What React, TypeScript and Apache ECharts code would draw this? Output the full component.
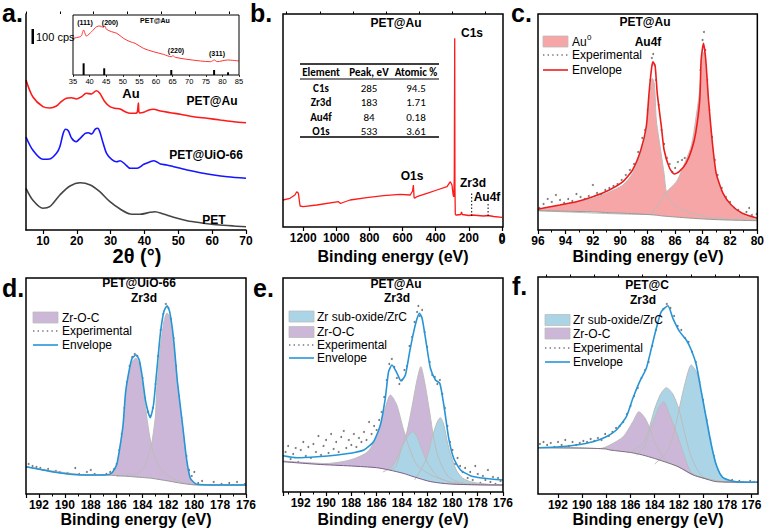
import React, { useEffect, useRef } from "react";
import * as echarts from "echarts";

const F = '"Liberation Sans", Arial, Helvetica, sans-serif';
const TF = 'Carlito, Lato, "Open Sans", sans-serif';

// ---- (a) XRD patterns: [2θ (°), intensity (offset, a.u.)] ----
const xrdPetAu = [[5,150],[7,133.3],[10,123.3],[12,122],[14,124],[15.4,128.3],[16.9,131.7],[18.4,132.3],[19.9,131],[21.4,133.3],[22.8,136.7],[24.3,136],[25.8,139.3],[26.8,136.7],[28.3,128.3],[29.8,123.3],[31.3,121.7],[32.8,121],[34.3,118.3],[35.8,116.7],[37.3,116.7],[37.9,118],[38.2,127],[38.5,117],[39.8,117.7],[41.3,120],[42.7,120.7],[44.7,119],[47.6,117.3],[50.6,115.7],[54.5,113.3],[58.5,111.7],[62.4,110],[66.4,108.3],[70,107.3]];
const xrdPetUio = [[5,93],[7,80],[10,70.7],[12,71],[14,76.7],[15,83.3],[16,96.7],[16.7,100.7],[17.5,99.3],[18.5,91.7],[19.8,88.3],[21,91.7],[22.5,96.7],[23.4,97.3],[24.4,96],[25.4,100.7],[26.2,101.7],[26.8,98.3],[27.8,86.7],[28.8,76.7],[30.3,70.7],[31.8,68.3],[32.8,69.3],[34.3,65.7],[35.8,61.7],[37.8,61.7],[39.8,65.7],[41.7,68.3],[42.8,69.3],[44.7,66],[46.6,65],[48.6,63.3],[52.6,60],[56.5,57.3],[60.5,55],[64.5,53.3],[70,51.7]];
const xrdPet = [[5,41.7],[7,30],[10,21.7],[12,23.3],[15,35],[18,44],[21,47.3],[24,45],[26.8,38.3],[29.8,28.3],[32.8,21],[35.8,16],[38.7,15.7],[41.7,17.7],[43.1,18.3],[45.6,16],[48.6,12.7],[52.6,9.3],[56.5,7.3],[61.4,5.3],[66.4,4],[70,3.3]];
const xrdTicks = [10, 20, 30, 40, 50, 60, 70];
const xrdMinorTicks = [5, 15, 25, 35, 45, 55, 65];

// inset: zoomed PET@Au pattern and Au reference reflections
const insetPetAu = [[35,36.7],[36.5,37.7],[37.5,39],[38.2,45],[38.6,41.7],[39,39],[40.6,43.3],[42.1,48.3],[43.1,49],[44.1,47.7],[44.6,49],[45.1,45.7],[46.6,43.3],[48.2,41.7],[50.2,36.7],[52.2,33.3],[53.7,31.7],[56.2,26.7],[59.2,23.3],[62.2,20.7],[64.6,18.3],[65.1,19.3],[65.8,17.7],[69.3,15.7],[73.4,14],[76.4,13.3],[77.6,15],[78.4,13.3],[81.5,15],[85,14]];
const auRefTheta = [38.2, 44.4, 64.6, 77.5, 81.7];
const auRefIntensity = [11.7, 6.7, 5, 5, 2.7];
const auPlanes = ["(111)", "(200)", "(220)", "(311)"];

// ---- (b) XPS survey: [binding energy (eV), counts (a.u.)] ----
const surveyPetAu = [[1322,27],[1280,28.7],[1250,32],[1239,35.3],[1229,33.7],[1219,21],[1200,20.3],[1118,22],[987,25.3],[975,23.5],[960,24.5],[917,27],[816,29.3],[715,31.3],[615,32.7],[554,32],[540,36],[535,42],[531,30],[528,28.7],[514,30.3],[453,33.7],[393,37],[332,40.3],[312,45.3],[302,42],[295,32],[291,30.3],[288,50],[285.5,188.7],[284,40],[282,13],[279,12],[272,12],[250,12.5],[244,15],[240,12.5],[200,11.5],[183,12],[111,11],[84,11.5],[50,10.5],[0,9.7]];
const surveyMarkers = [{ name: "Zr3d", ev: 183, top: 35 }, { name: "Au4f", ev: 84, top: 24 }];
const surveyTicks = [0, 200, 400, 600, 800, 1000, 1200];
const surveyMinorTicks = [100, 300, 500, 700, 900, 1100, 1300];
const tableHeader = ["Element", "Peak, eV", "Atomic %"];
const tableElements = ["C1s", "Zr3d", "Au4f", "O1s"];
const tablePeaks = [285, 183, 84, 533];
const tableAtomic = [94.5, 1.71, 0.18, 3.61];

// ---- (c) Au4f, PET@Au ----
const cBackground = [[96,19.3],[94,18.8],[92,18.2],[90.8,17.3],[89,16.3],[87.5,15],[86.9,14],[85,12],[83.5,10.7],[82,9.9],[80,9.3]];
const cEnvelope = [[96,20.7],[95.2,23],[94.4,25],[93.2,28.3],[92,33.3],[90.8,40],[89.8,48.3],[89.1,60],[88.5,80],[88.1,103.3],[87.9,136.7],[87.7,163.3],[87.6,168.3],[87.45,163.3],[87.3,136.7],[87.0,103.3],[86.8,80],[86.4,61.7],[86.05,56],[85.7,58.3],[85.2,66.7],[84.8,80],[84.5,96.7],[84.2,130],[84.1,170],[83.93,186.7],[83.76,170],[83.56,130],[83.3,90],[83.0,56.7],[82.5,36.7],[81.9,25],[81.1,16.7],[80,11.7]];
const cAu72 = [[96,19.3],[88,15.5],[87.5,20],[87,30],[86.64,38],[85.9,48.3],[85.2,70],[84.8,85],[84.5,110],[84.2,140],[84.05,170],[83.93,178],[83.8,170],[83.56,128],[83.3,88],[83.0,55],[82.5,35],[81.9,23.5],[81.1,15.5],[80,10]];
const cAu52 = [[96,20],[94,26],[92,31.7],[90.8,38],[89.8,45],[89.1,56.7],[88.5,76.7],[88.1,96.7],[87.9,126.7],[87.75,145],[87.65,151.7],[87.5,145],[87.37,110],[87.2,93],[87.0,75],[86.8,56],[86.64,38],[86.4,30],[86.04,25],[85.7,21.7],[84.7,16.7],[83.5,12.5],[82.8,11.7],[80.1,9.5]];
const cExperimental = [[95.9,22],[95.6,26],[95.3,31],[95.0,28],[94.7,35],[94.4,30],[94.1,27],[93.8,31],[93.5,29],[93.2,36],[92.9,33],[92.6,31],[92.3,34],[92.0,45],[91.7,37],[91.4,35],[91.1,40],[90.8,42],[90.5,44],[90.2,46],[89.9,50],[89.6,55],[89.3,60],[89.0,66],[88.7,78],[88.4,92],[88.2,100],[88.0,120],[87.8,150],[87.7,172],[87.6,176],[87.5,165],[87.4,150],[87.2,125],[87.0,100],[86.8,86],[86.6,72],[86.4,66],[86.2,58],[86.0,62],[85.8,68],[85.5,70],[85.3,72],[85.1,70],[84.9,78],[84.7,88],[84.5,100],[84.3,120],[84.15,160],[84.0,190],[83.9,198],[83.8,180],[83.65,150],[83.5,120],[83.3,93],[83.1,70],[82.9,55],[82.6,42],[82.3,33],[82.0,28],[81.7,22],[81.4,20],[81.1,14],[80.8,18],[80.6,22],[80.4,15],[80.2,8],[80.05,16]];

// ---- (d) Zr3d, PET@UiO-66 ----
const dBackground = [[193,27.3],[191,22.3],[189.75,20],[188.5,19],[187.2,19],[186.4,18.7],[185,17.5],[184,16.5],[183.3,15.7],[182,13],[181,10.7],[180,9.2],[179,9],[176,9]];
const dEnvelope = [[193,27.3],[191,22.3],[189.75,20],[188.5,19],[187.2,19],[186.4,20.7],[186,29],[185.8,42.3],[185.5,69],[185.3,102.3],[185,125.7],[184.8,135.7],[184.5,139],[184.25,134],[184,115.7],[183.75,92.3],[183.4,76.3],[183.15,89],[182.9,122.3],[182.6,162.3],[182.35,182.3],[182.1,188.3],[181.9,182.3],[181.6,155.7],[181.3,112.3],[180.9,69],[180.6,35.7],[180.3,15.7],[179.8,9.7],[178.3,9],[176,9]];
const dZrOC32 = [[193,27.3],[188,19],[186.4,19.5],[186,27],[185.8,40],[185.5,66],[185.3,99],[185,122],[184.8,132],[184.5,136],[184.25,130],[184,110],[183.75,85],[183.5,62],[183.3,49],[183,35],[182.6,25],[182,18],[181,12],[180,9.2],[176,9]];
const dZrOC52 = [[186,17.8],[185,19],[184.5,20],[184,24],[183.75,31],[183.5,40],[183.3,49],[183,78],[182.9,104],[182.6,148],[182.35,172],[182.1,181],[181.9,177],[181.6,152],[181.3,110],[180.9,67],[180.6,34],[180.3,15],[179.8,9.5],[176,9]];
const dExperimental = [[192.8,30],[192.5,28],[192.2,27],[191.9,26],[191.6,24],[191.3,25],[191.0,20],[190.7,23],[190.4,22],[190.1,19],[189.8,21],[189.5,17],[189.2,26],[188.9,20],[188.6,19],[188.3,22],[188.0,24],[187.7,20],[187.4,18],[187.1,19],[186.8,20],[186.5,22],[186.2,25],[186.0,30],[185.8,44],[185.6,60],[185.4,86],[185.2,112],[185.0,128],[184.8,137],[184.6,140],[184.4,138],[184.2,130],[184.0,116],[183.8,96],[183.6,82],[183.4,78],[183.2,86],[183.0,110],[182.8,138],[182.6,164],[182.4,180],[182.2,190],[182.0,186],[181.8,175],[181.6,156],[181.4,128],[181.2,98],[181.0,76],[180.8,55],[180.6,38],[180.4,24],[180.2,18],[180.0,22],[179.7,11],[179.4,13],[179.1,8],[178.8,9],[178.5,12],[178.2,7],[177.9,10],[177.6,8],[177.3,11],[177.0,9],[176.7,12],[176.4,9],[176.1,10]];

// ---- (e) Zr3d, PET@Au ----
const eBackground = [[193.4,30.3],[190.7,27.7],[188,26],[186,24.3],[185,22],[183.9,18.7],[183,15],[181.7,10.3],[180.2,8],[178,7.2],[176,7]];
const eEnvelope = [[193.4,36.3],[192.3,34.3],[190.7,35.3],[189.1,37],[188.1,38.7],[187,42],[186.24,50.3],[185.7,67],[185.31,93.7],[185.05,120.3],[184.78,127],[184.38,118.7],[184.06,111],[183.72,117],[183.38,140.3],[183.06,160.3],[182.79,173.7],[182.6,178.7],[182.4,173.7],[182.13,153.7],[181.74,123.7],[181.34,112],[181,108.7],[180.68,87],[180.29,53.7],[179.9,33.7],[179.36,22],[178.57,16.3],[177.5,13.7],[176,12]];
const eZrOC32 = [[193.4,31],[190,28.5],[188.1,32],[186.7,40.3],[185.95,57],[185.4,80.3],[184.9,97],[184.4,87],[183.9,63.7],[183.3,40.3],[182.8,27],[181.7,17],[180.2,10.3],[178,7.5],[176,7]];
const eZrOC52 = [[185,22],[184.5,25],[184,45],[183.6,60.3],[183.2,85],[182.8,112],[182.5,125.3],[182.2,110],[181.8,80],[181.5,55],[181.2,38],[180.8,25],[180.3,15],[179.5,10],[178,7.5],[176,7]];
const eSubOx32 = [[185.5,20],[184.8,25],[184.4,33],[184.1,42],[183.8,50],[183.4,58],[183.14,60.3],[182.8,55],[182.4,42],[182,30],[181.5,20],[181,14],[180,9],[179,7.5],[176,7]];
const eSubOx52 = [[183,12],[182.5,22],[182,35],[181.6,55],[181.2,70],[180.96,74.3],[180.7,68],[180.4,50],[180.2,40],[179.7,22],[179.2,14],[178.5,10],[177,7.5],[176,7]];
const eExperimental = [[193.2,40],[193.0,46],[192.8,33],[192.6,38],[192.4,44],[192.2,30],[192.0,42],[191.8,50],[191.6,36],[191.4,45],[191.2,34],[191.0,48],[190.8,40],[190.6,56],[190.4,37],[190.2,46],[190.0,52],[189.8,39],[189.6,58],[189.4,43],[189.2,50],[189.0,40],[188.8,55],[188.6,61],[188.4,44],[188.2,52],[188.0,47],[187.8,58],[187.6,45],[187.4,54],[187.2,50],[187.0,60],[186.8,52],[186.6,70],[186.4,58],[186.2,66],[186.0,62],[185.8,72],[185.6,80],[185.4,95],[185.2,112],[185.0,128],[184.8,133],[184.6,125],[184.4,114],[184.2,108],[184.0,112],[183.8,122],[183.6,126],[183.4,146],[183.2,155],[183.0,170],[182.8,180],[182.7,186],[182.6,176],[182.4,182],[182.2,160],[182.0,145],[181.8,130],[181.6,117],[181.4,115],[181.2,108],[181.0,112],[180.8,98],[180.6,84],[180.4,66],[180.2,50],[180.0,42],[179.8,28],[179.6,34],[179.4,26],[179.2,20],[179.0,24],[178.8,14],[178.6,20],[178.4,12],[178.2,26],[178.0,18],[177.8,9],[177.6,16],[177.4,12],[177.2,22],[177.0,10],[176.8,15],[176.6,8],[176.4,14],[176.2,11]];

// ---- (f) Zr3d, PET@C ----
const fBackground = [[193.65,46.3],[190,46],[188,45],[187.7,44],[186,41.5],[185,39],[184,35.5],[182.8,30.7],[182,27],[180.8,19],[180,16],[178.9,12.3],[178,12],[175.45,11.7]];
const fEnvelope = [[193.65,46.3],[191.86,47.3],[190.48,49],[189.1,52.3],[188,57.3],[187.17,64],[186.34,77.3],[185.8,95.7],[185.24,112.3],[184.69,125.7],[184.27,145.7],[183.86,165.7],[183.45,182.3],[182.9,188.3],[182.49,175.7],[181.93,162.3],[181.38,154],[180.97,144],[180.55,129],[180.14,102.3],[179.73,75.7],[179.31,49],[178.9,29],[178.35,16.3],[177.24,12.3],[175.45,11.7]];
const fZrOC32 = [[193.65,46.3],[188.5,45.5],[187.7,49],[186.6,57.3],[185.8,72.3],[185.3,82.3],[184.8,76],[184.4,65.7],[184,52],[183.5,40],[183,33],[182,27],[181,20],[180,16],[178,12],[175.45,11.7]];
const fZrOC52 = [[185.5,39],[184.8,48],[184.4,64],[184,76],[183.6,88],[183.26,92.3],[182.75,79],[182.2,62],[181.65,42],[181,22],[180,16],[178,12],[175.45,11.7]];
const fSubOx32 = [[186,42],[185,50],[184.5,64],[184,85],[183.5,100],[183.03,106.3],[182.5,100],[182,85],[181.5,60],[181,38],[180.5,25],[180,17],[179,13],[178,12],[175.45,11.7]];
const fSubOx52 = [[184,30],[183,42],[182.4,62],[181.96,85.7],[181.5,110],[180.97,129],[180.55,122],[180.28,109],[179.73,75.7],[179.31,49],[178.9,29],[178.35,15.7],[177.24,12.3],[175.45,11.7]];
const fExperimental = [[193.5,50],[193.2,52],[192.9,49],[192.6,51],[192.3,47],[192.0,52],[191.7,49],[191.4,54],[191.1,48],[190.8,52],[190.5,49],[190.2,51],[189.9,53],[189.6,52],[189.3,55],[189.0,53],[188.7,56],[188.4,54],[188.1,60],[187.8,58],[187.5,62],[187.2,66],[186.9,68],[186.6,72],[186.3,80],[186.0,88],[185.7,98],[185.4,106],[185.1,116],[184.8,124],[184.5,132],[184.2,148],[183.9,164],[183.6,178],[183.3,185],[183.0,190],[182.7,186],[182.4,178],[182.1,168],[181.8,164],[181.5,156],[181.2,152],[180.9,142],[180.6,132],[180.3,112],[180.0,94],[179.7,74],[179.4,54],[179.1,38],[178.8,24],[178.5,18],[178.2,14],[177.9,12],[177.6,14],[177.3,11],[177.0,13],[176.7,12],[176.4,11],[176.1,13],[175.8,12],[175.6,11]];
const zrTicks = [176, 178, 180, 182, 184, 186, 188, 190, 192];
const zrMinorTicks = [177, 179, 181, 183, 185, 187, 189, 191, 193];

// The survey axis is laid out left-to-right in "distance below 10000 eV"
// (axis value = 10000 − E), so energy still decreases to the right.
const SURVEY_REF = 10000;
const toSurveyAxis = (pts: number[][]) => pts.map(([e, v]) => [SURVEY_REF - e, v]);

// ---- palette ----
const RED = "#f01c1c";
const PINK = "#f6a6a6";
const PURPLE = "#cdb7d8";
const LIGHTBLUE = "#abd5e6";
const ENV_BLUE = "#2595d8";
const EDGE = "#bcbcbc";
const DOT = "#555555";

const tickLabel = { color: "#000", fontFamily: F, fontWeight: "bold" as const, fontSize: 12, margin: 5, formatter: (v: number) => String(v) };
const tickStyle = { show: true, length: 4, lineStyle: { color: "#000", width: 1.2 } };
const minorStyle = { show: true, splitNumber: 2, length: 2.5, lineStyle: { color: "#000", width: 1 } };

function xAxisPlain(gridIndex: number, min: number, max: number, inverse: boolean, interval: number) {
  return {
    type: "value", gridIndex, min, max, inverse, interval,
    axisLine: { show: false, onZero: false },
    axisTick: tickStyle,
    minorTick: minorStyle,
    axisLabel: { ...tickLabel, showMinLabel: true, showMaxLabel: max % interval === 0 },
    splitLine: { show: false }, minorSplitLine: { show: false },
  };
}

// Value axis whose ticks sit at explicit values
function xAxisCustom(gridIndex: number, min: number, max: number, inverse: boolean, ticks: number[], withLine = false, fmt?: (v: number) => string) {
  return {
    type: "value", gridIndex, min, max, inverse, z: 10,
    axisLine: { show: withLine, onZero: false, lineStyle: { color: "#000", width: 1.5 } },
    axisTick: { ...tickStyle, customValues: ticks },
    axisLabel: {
      ...tickLabel, customValues: ticks, showMinLabel: true, showMaxLabel: true, hideOverlap: false,
      formatter: fmt ?? ((v: number) => String(v)),
    },
    splitLine: { show: false },
  };
}
function xAxisMinor(gridIndex: number, min: number, max: number, inverse: boolean, ticks: number[]) {
  return {
    type: "value", gridIndex, min, max, inverse,
    axisLine: { show: false, onZero: false },
    axisTick: { show: true, length: 2.5, lineStyle: { color: "#000", width: 1 }, customValues: ticks },
    axisLabel: { show: false }, splitLine: { show: false },
  };
}

// Intensity axes carry no ticks or labels; only panel (a) draws its axis line
function yAxisPlain(gridIndex: number, max: number, showLine = false) {
  return {
    type: "value", gridIndex, min: 0, max, position: "left", show: showLine,
    axisLine: { show: showLine, onZero: false, lineStyle: { color: "#000", width: 1.5 } },
    axisTick: { show: false }, axisLabel: { show: false }, splitLine: { show: false }, z: 10,
  };
}

function peakArea(xi: number, yi: number, data: number[][], fill: string) {
  return {
    type: "line", xAxisIndex: xi, yAxisIndex: yi, data, smooth: 0.25, symbol: "none", silent: true,
    lineStyle: { color: EDGE, width: 1 }, areaStyle: { color: fill, opacity: 1, origin: "start" },
  };
}
function baseline(xi: number, yi: number, data: number[][], color: string) {
  return {
    type: "line", xAxisIndex: xi, yAxisIndex: yi, data, smooth: 0.25, symbol: "none", silent: true,
    lineStyle: { color, width: 1 }, areaStyle: { color: "#ffffff", opacity: 1, origin: "start" },
  };
}
function points(xi: number, yi: number, data: number[][]) {
  return {
    type: "scatter", xAxisIndex: xi, yAxisIndex: yi, data, symbolSize: 2, silent: true,
    itemStyle: { color: DOT },
  };
}
function curve(xi: number, yi: number, data: number[][], color: string, width = 1.6, smooth: number | boolean = 0.25) {
  return {
    type: "line", xAxisIndex: xi, yAxisIndex: yi, data, smooth, symbol: "none", silent: true,
    lineStyle: { color, width },
  };
}

function txt(x: number, y: number, text: string, size: number, weight = "bold", align = "center", family = F) {
  return {
    type: "text", x, y, z: 100, silent: true,
    style: { text, fontSize: size, fontWeight: weight, fontFamily: family, fill: "#000", align, textAlign: align, verticalAlign: "middle", textVerticalAlign: "middle" },
  };
}
function hline(x1: number, x2: number, y: number, w = 1.5, color = "#000", dash?: number[]) {
  return { type: "line", z: 100, silent: true, shape: { x1, y1: y, x2, y2: y }, style: { stroke: color, lineWidth: w, lineDash: dash } };
}
function swatch(x: number, y: number, w: number, h: number, fill: string) {
  return { type: "rect", z: 100, silent: true, shape: { x, y, width: w, height: h }, style: { fill, stroke: EDGE, lineWidth: 0.8 } };
}

type LegendRow = { kind: "rect" | "dots" | "line"; color: string; label: string; y: number; h?: number };
function legend(x: number, textX: number, rows: LegendRow[]) {
  const out: any[] = [];
  rows.forEach((r) => {
    if (r.kind === "rect") out.push(swatch(x, r.y - (r.h ?? 11) / 2, 25, r.h ?? 11, r.color));
    else if (r.kind === "dots") out.push(hline(x, x + 25, r.y, 1.4, r.color, [1.4, 3.2]));
    else out.push(hline(x, x + 25, r.y, 1.6, r.color));
    out.push(txt(textX, r.y, r.label, 12, "normal", "left"));
  });
  return out;
}

// surveyEdgeX: pixel position of the survey axis' 0 eV tick, used for its label
function buildOption(surveyEdgeX?: number) {
  const graphic: any[] = [];
  // panel letters
  graphic.push(txt(2, 13, "a.", 25, "bold", "left"));
  graphic.push(txt(250, 13, "b.", 25, "bold", "left"));
  graphic.push(txt(511, 13, "c.", 25, "bold", "left"));
  graphic.push(txt(2, 288, "d.", 25, "bold", "left"));
  graphic.push(txt(253, 288, "e.", 25, "bold", "left"));
  graphic.push(txt(512, 286, "f.", 25, "bold", "left"));

  // axis titles
  graphic.push(txt(137, 256, "2θ (°)", 20));
  graphic.push(txt(393, 256, "Binding energy (eV)", 16));
  graphic.push(txt(648, 256, "Binding energy (eV)", 16));
  graphic.push(txt(136, 519, "Binding energy (eV)", 16));
  graphic.push(txt(393, 519, "Binding energy (eV)", 16));
  graphic.push(txt(648, 519, "Binding energy (eV)", 16));

  // (a) labels and scale bar
  graphic.push(txt(212, 101, "PET@Au", 12));
  graphic.push(txt(206, 155, "PET@UiO-66", 12));
  graphic.push(txt(214, 220, "PET", 12));
  graphic.push(txt(131, 93, "Au", 13));
  graphic.push({ type: "rect", z: 100, silent: true, shape: { x: 31.5, y: 29, width: 2.5, height: 15 }, style: { fill: "#000" } });
  graphic.push(txt(36, 37, "100 cps", 11, "normal", "left"));
  graphic.push(txt(85, 22, auPlanes[0], 7));
  graphic.push(txt(110, 22, auPlanes[1], 7));
  graphic.push(txt(155, 20, "PET@Au", 7));
  graphic.push(txt(176, 50, auPlanes[2], 7));
  graphic.push(txt(217, 53, auPlanes[3], 7));

  // (b) labels and table
  graphic.push(txt(396, 23, "PET@Au", 12));
  graphic.push(txt(472, 33, "C1s", 12));
  graphic.push(txt(412, 176, "O1s", 12));
  graphic.push(txt(473, 183, "Zr3d", 12));
  graphic.push(txt(487, 197, "Au4f", 12));
  graphic.push(hline(300, 439, 64));
  graphic.push(hline(300, 439, 79, 1));
  graphic.push(hline(300, 439, 137));
  const colX = [321, 369, 416];
  tableHeader.forEach((h, i) => graphic.push(txt(colX[i], 72.5, h, 11, "bold", "center", TF)));
  tableElements.forEach((el, r) => {
    const y = 88 + r * 14.5;
    graphic.push(txt(colX[0], y, el, 11, "bold", "center", TF));
    graphic.push(txt(colX[1], y, String(tablePeaks[r]), 11, "normal", "center", TF));
    graphic.push(txt(colX[2], y, String(tableAtomic[r]), 11, "normal", "center", TF));
  });
  if (surveyEdgeX !== undefined && isFinite(surveyEdgeX)) {
    // label of the 0 eV tick at the right end of the survey axis
    graphic.push(txt(surveyEdgeX, 239.5, String(surveyTicks[0]), 12));
  }

  // (c) titles and legend
  graphic.push(txt(645, 22, "PET@Au", 12));
  graphic.push(txt(648, 42, "Au4f", 12));
  graphic.push(...legend(543, 572, [
    { kind: "rect", color: PINK, label: "Au", y: 41.5 },
    { kind: "dots", color: "#777", label: "Experimental", y: 55 },
    { kind: "line", color: RED, label: "Envelope", y: 70 },
  ]));
  graphic.push(txt(587, 37, "0", 8, "normal", "left"));

  // (d)
  graphic.push(txt(139, 283, "PET@UiO-66", 12));
  graphic.push(txt(144, 298, "Zr3d", 12));
  graphic.push(...legend(33, 62, [
    { kind: "rect", color: PURPLE, label: "Zr-O-C", y: 317.5 },
    { kind: "dots", color: "#777", label: "Experimental", y: 331 },
    { kind: "line", color: ENV_BLUE, label: "Envelope", y: 345 },
  ]));

  // (e)
  graphic.push(txt(396, 284, "PET@Au", 12));
  graphic.push(txt(397, 298, "Zr3d", 12));
  graphic.push(...legend(289, 317, [
    { kind: "rect", color: LIGHTBLUE, label: "Zr sub-oxide/ZrC", y: 316.5 },
    { kind: "rect", color: PURPLE, label: "Zr-O-C", y: 332 },
    { kind: "dots", color: "#777", label: "Experimental", y: 345 },
    { kind: "line", color: ENV_BLUE, label: "Envelope", y: 358 },
  ]));

  // (f)
  graphic.push(txt(647, 285, "PET@C", 12));
  graphic.push(txt(643, 300, "Zr3d", 12));
  graphic.push(...legend(545, 573, [
    { kind: "rect", color: LIGHTBLUE, label: "Zr sub-oxide/ZrC", y: 320 },
    { kind: "rect", color: PURPLE, label: "Zr-O-C", y: 333.5 },
    { kind: "dots", color: "#777", label: "Experimental", y: 348 },
    { kind: "line", color: ENV_BLUE, label: "Envelope", y: 362 },
  ]));

  const box = { show: true, borderColor: "#000", borderWidth: 1.5, z: 10 };
  const surveyMin = SURVEY_REF - 1322;
  const surveyMax = SURVEY_REF + 6;
  const surveyFmt = (v: number) => String(Math.round(SURVEY_REF - v));

  return {
    animation: false,
    backgroundColor: "#ffffff",
    grid: [
      { left: 26, top: 14, width: 220, height: 216 },
      { left: 73, top: 15, width: 166, height: 60, show: true, borderColor: "#000", borderWidth: 1, z: 10 },
      { left: 283, top: 14, width: 220, height: 213, ...box },
      { left: 538, top: 14, width: 220, height: 216, ...box },
      { left: 26, top: 278, width: 220, height: 216, ...box },
      { left: 283, top: 278, width: 220, height: 214, ...box },
      { left: 538, top: 277, width: 220, height: 217, ...box },
    ],
    xAxis: [
      // 0: (a) main, 1: (a) minor ticks
      xAxisCustom(0, 5, 70, false, xrdTicks, true),
      xAxisMinor(0, 5, 70, false, xrdMinorTicks),
      // 2: inset
      {
        type: "value", gridIndex: 1, min: 35, max: 85, interval: 5,
        axisLine: { show: false, onZero: false },
        axisTick: { show: true, length: 2, lineStyle: { color: "#000", width: 0.8 } },
        axisLabel: { color: "#000", fontFamily: F, fontSize: 7.5, margin: 2, formatter: (v: number) => String(v) },
        splitLine: { show: false },
      },
      // 3: (b), 4: (b) minor ticks
      xAxisCustom(2, surveyMin, surveyMax, false, surveyTicks.map((t) => SURVEY_REF - t), false, surveyFmt),
      xAxisMinor(2, surveyMin, surveyMax, false, surveyMinorTicks.map((t) => SURVEY_REF - t)),
      // 5: (c)
      xAxisPlain(3, 80, 96, true, 2),
      // 6: (d)
      xAxisPlain(4, 176, 193, true, 2),
      // 7: (e)
      xAxisPlain(5, 176, 193.4, true, 2),
      // 8: (f) main, 9: (f) minor ticks
      xAxisCustom(6, 175.45, 193.65, true, zrTicks),
      xAxisMinor(6, 175.45, 193.65, true, zrMinorTicks),
    ],
    yAxis: [
      yAxisPlain(0, 216, true),
      yAxisPlain(1, 60),
      yAxisPlain(2, 213),
      yAxisPlain(3, 216),
      yAxisPlain(4, 216),
      yAxisPlain(5, 214),
      yAxisPlain(6, 217),
    ],
    series: [
      // (a)
      curve(0, 0, xrdPetAu, "#ff1a1a", 1.6, 0.3),
      curve(0, 0, xrdPetUio, "#1515ff", 1.6, 0.3),
      curve(0, 0, xrdPet, "#454545", 1.6, 0.3),
      curve(2, 1, insetPetAu, "#ff3333", 1, 0.3),
      {
        type: "bar", xAxisIndex: 2, yAxisIndex: 1, barWidth: 2, silent: true,
        data: auRefTheta.map((t, i) => [t, auRefIntensity[i]]),
        itemStyle: { color: "#000" },
      },
      // (b)
      curve(3, 2, toSurveyAxis(surveyPetAu), "#ff1a1a", 1.3, false),
      ...surveyMarkers.map((m) => ({
        type: "line", xAxisIndex: 3, yAxisIndex: 2, symbol: "none", silent: true,
        data: toSurveyAxis([[m.ev, 11], [m.ev, m.top]]),
        lineStyle: { color: "#000", width: 1, type: [1.5, 2] },
      })),
      // (c)
      peakArea(5, 3, cAu72, PINK),
      peakArea(5, 3, cAu52, PINK),
      baseline(5, 3, cBackground, "#999"),
      points(5, 3, cExperimental),
      curve(5, 3, cEnvelope, RED, 1.6, 0.2),
      // (d)
      peakArea(6, 4, dZrOC52, PURPLE),
      peakArea(6, 4, dZrOC32, PURPLE),
      baseline(6, 4, dBackground, "#999"),
      points(6, 4, dExperimental),
      curve(6, 4, dEnvelope, ENV_BLUE, 1.6, 0.2),
      // (e)
      peakArea(7, 5, eZrOC32, PURPLE),
      peakArea(7, 5, eZrOC52, PURPLE),
      peakArea(7, 5, eSubOx32, LIGHTBLUE),
      peakArea(7, 5, eSubOx52, LIGHTBLUE),
      baseline(7, 5, eBackground, "#7b5d8c"),
      points(7, 5, eExperimental),
      curve(7, 5, eEnvelope, ENV_BLUE, 1.6, 0.2),
      // (f)
      peakArea(8, 6, fSubOx32, LIGHTBLUE),
      peakArea(8, 6, fSubOx52, LIGHTBLUE),
      peakArea(8, 6, fZrOC32, PURPLE),
      peakArea(8, 6, fZrOC52, PURPLE),
      baseline(8, 6, fBackground, "#7a7080"),
      points(8, 6, fExperimental),
      curve(8, 6, fEnvelope, ENV_BLUE, 1.6, 0.2),
    ],
    graphic,
  };
}

export default function App() {
  const ref = useRef<HTMLDivElement>(null);
  useEffect(() => {
    document.body.style.margin = "0";
    const chart = echarts.init(ref.current!, null, { renderer: "svg" });
    chart.setOption(buildOption() as any);
    try {
      // place the 0 eV label through the survey axis' own scale
      const x = chart.convertToPixel({ xAxisIndex: 3 } as any, SURVEY_REF - surveyTicks[0]) as unknown as number;
      if (typeof x === "number" && isFinite(x)) {
        chart.setOption(buildOption(x) as any, { notMerge: true });
      }
    } catch (e) {
      // keep the chart as first drawn
    }
    return () => chart.dispose();
  }, []);
  return (
    <div
      ref={ref}
      style={{ position: "absolute", left: 0, top: 0, width: 767, height: 529, background: "#fff" }}
    />
  );
}
